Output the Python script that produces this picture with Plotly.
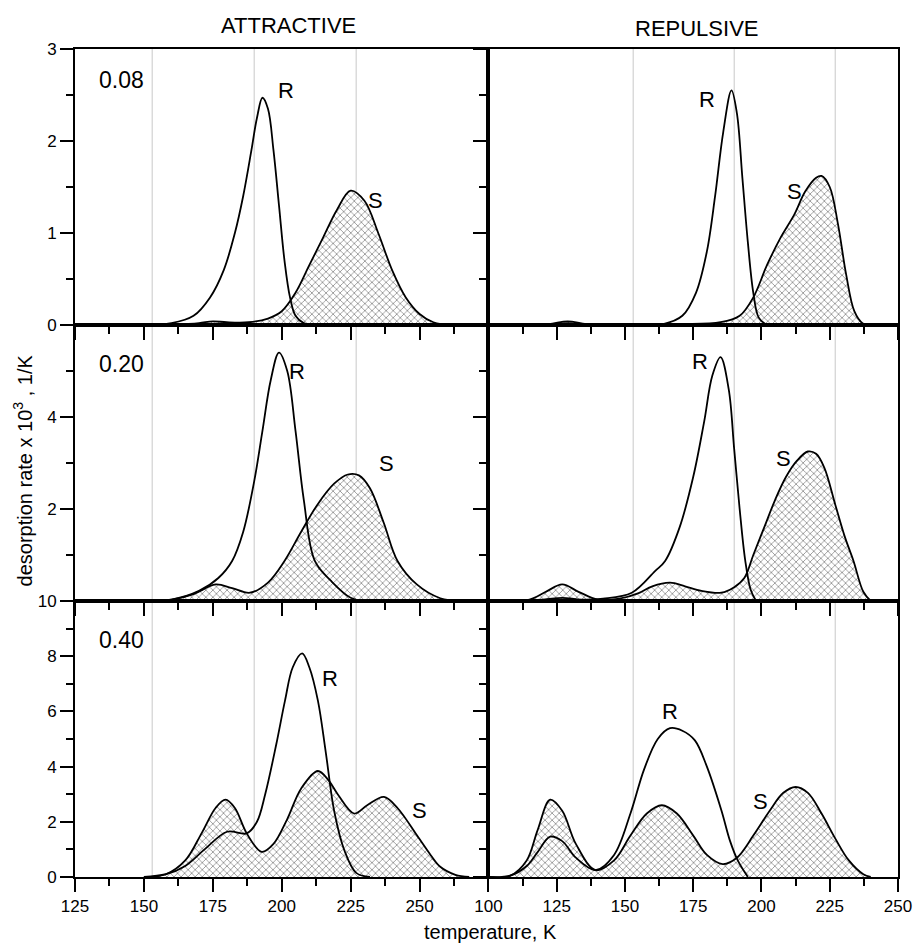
import plotly.graph_objects as go

# ---------------- data (temperature K, desorption rate x1e3 1/K) ----------------
# 0.08 ATTRACTIVE
TL_R_T = [150, 160, 168, 174, 179, 183, 186, 189, 191, 193, 195, 197, 199, 201, 203, 205, 208, 212]
TL_R_V = [0, 0.02, 0.1, 0.3, 0.6, 1.0, 1.4, 1.9, 2.25, 2.47, 2.35, 1.9, 1.3, 0.7, 0.3, 0.1, 0.02, 0]
TL_S_T = [160, 170, 175, 180, 188, 195, 200, 205, 210, 215, 220, 225, 230, 235, 240, 245, 250, 255, 262]
TL_S_V = [0, 0.02, 0.04, 0.03, 0.03, 0.07, 0.15, 0.35, 0.65, 0.95, 1.25, 1.46, 1.35, 1.0, 0.6, 0.3, 0.12, 0.03, 0]
# 0.08 REPULSIVE
TR_R_T = [110, 122, 129, 136, 150, 164, 171, 176, 180, 183, 186, 189, 191, 193, 195, 197, 199, 202]
TR_R_V = [0, 0.005, 0.02, 0.005, 0, 0.01, 0.1, 0.35, 0.8, 1.4, 2.1, 2.55, 2.3, 1.6, 0.9, 0.35, 0.08, 0]
TR_S_T = [110, 122, 129, 136, 150, 170, 185, 192, 197, 202, 207, 212, 216, 220, 222, 225, 228, 231, 234, 237, 240]
TR_S_V = [0, 0.01, 0.04, 0.01, 0, 0.01, 0.03, 0.1, 0.3, 0.65, 0.95, 1.2, 1.45, 1.6, 1.62, 1.5, 1.1, 0.55, 0.15, 0.02, 0]
# 0.20 ATTRACTIVE
ML_R_T = [150, 160, 170, 177, 182, 186, 190, 193, 196, 199, 202, 205, 208, 212, 218, 225, 230]
ML_R_V = [0, 0.03, 0.22, 0.5, 0.87, 1.5, 2.6, 3.7, 4.8, 5.4, 5.0, 3.7, 2.2, 0.87, 0.43, 0.07, 0]
ML_S_T = [150, 160, 168, 176, 182, 188.5, 195, 201, 207, 213, 219, 224, 228, 232, 237, 242, 249, 257.5, 265]
ML_S_V = [0, 0.03, 0.15, 0.36, 0.28, 0.18, 0.4, 0.87, 1.5, 2.1, 2.55, 2.75, 2.73, 2.45, 1.7, 0.87, 0.36, 0.06, 0]
# 0.20 REPULSIVE
MR_R_T = [105, 120, 127, 134, 142, 152.5, 161, 164.7, 170, 175, 179, 182, 185, 188, 190, 192, 194, 196, 198]
MR_R_V = [0, 0.03, 0.07, 0.03, 0.05, 0.18, 0.65, 0.87, 1.6, 2.7, 3.9, 4.9, 5.3, 4.6, 3.3, 2.0, 0.9, 0.25, 0]
MR_S_T = [105, 115, 121, 127, 133, 140, 148, 155, 160, 166.5, 172, 178, 185.3, 190, 193.7, 197, 201, 205, 209, 213, 217, 220, 223, 227, 230.5, 233.7, 237.3, 240]
MR_S_V = [0, 0.03, 0.2, 0.36, 0.2, 0.03, 0.05, 0.17, 0.32, 0.4, 0.32, 0.22, 0.18, 0.3, 0.5, 1.0, 1.6, 2.2, 2.7, 3.05, 3.25, 3.2, 2.9, 2.1, 1.4, 0.87, 0.2, 0]
# 0.40 ATTRACTIVE
BL_R_T = [150, 158, 165, 172, 180.2, 187.3, 191, 194, 198, 201.2, 204, 207.4, 210, 213.1, 216, 219, 222.7, 227, 232]
BL_R_V = [0, 0.1, 0.4, 1.0, 1.64, 1.58, 2.0, 3.0, 4.8, 6.4, 7.6, 8.1, 7.6, 6.4, 4.5, 2.4, 0.97, 0.15, 0]
BL_S_T = [150, 158, 165, 171, 176, 179.6, 183, 187.3, 192.7, 197, 202, 207, 213.1, 217, 220.3, 226.3, 231, 237.1, 242, 249.1, 254, 257.5, 263, 268]
BL_S_V = [0, 0.1, 0.6, 1.6, 2.5, 2.8, 2.5, 1.58, 0.91, 1.2, 2.1, 3.2, 3.84, 3.5, 3.0, 2.3, 2.6, 2.9, 2.5, 1.5, 0.8, 0.37, 0.08, 0]
# 0.40 REPULSIVE
BR_R_T = [100, 108, 114, 118, 122.6, 127, 132, 139.2, 146, 152, 157, 162, 166.5, 171, 175.6, 180, 185.3, 188.5, 191.3, 195]
BR_R_V = [0, 0.05, 0.4, 0.9, 1.46, 1.3, 0.7, 0.25, 0.8, 2.3, 3.9, 5.0, 5.39, 5.3, 4.95, 4.0, 2.42, 1.3, 0.6, 0]
BR_S_T = [100, 108, 114, 118, 122.6, 127, 132, 139.2, 146, 152, 158, 163.5, 169, 175, 180, 185.8, 191, 197, 203, 208, 212.5, 217, 222, 227, 232, 237.3, 240]
BR_S_V = [0, 0.05, 0.6, 1.7, 2.8, 2.4, 1.2, 0.25, 0.6, 1.5, 2.3, 2.6, 2.3, 1.5, 0.8, 0.47, 0.7, 1.5, 2.4, 3.05, 3.26, 3.05, 2.3, 1.4, 0.6, 0.1, 0]

PANEL_LABELS = ["0.08", "0.20", "0.40"]
COL_TITLES = ["ATTRACTIVE", "REPULSIVE"]
X_TITLE = "temperature, K"
Y_TITLE = "desorption rate x 10<sup>3</sup> , 1/K"
LEFT_XRANGE = [125, 275]
RIGHT_XRANGE = [100, 250]
Y_RANGES = [[0, 3], [0, 6], [0, 10]]
Y_DTICK = [1, 2, 2]
Y_TICKS = [[0, 1, 2, 3], [2, 4], [0, 2, 4, 6, 8, 10]]
GRID_T = [153, 190, 227]
LEFT_XTICKS = [125, 150, 175, 200, 225, 250]
RIGHT_XTICKS = [100, 125, 150, 175, 200, 225, 250]

panels = [
    (TL_R_T, TL_R_V, TL_S_T, TL_S_V),
    (TR_R_T, TR_R_V, TR_S_T, TR_S_V),
    (ML_R_T, ML_R_V, ML_S_T, ML_S_V),
    (MR_R_T, MR_R_V, MR_S_T, MR_S_V),
    (BL_R_T, BL_R_V, BL_S_T, BL_S_V),
    (BR_R_T, BR_R_V, BR_S_T, BR_S_V),
]
LABEL_R = [(201.5, 2.55), (180, 2.45), (205.5, 5.0), (177.5, 5.2), (217.5, 7.2), (166.5, 6.0)]
LABEL_S = [(234, 1.35), (212, 1.45), (238, 3.0), (208, 3.1), (250, 2.4), (199.5, 2.75)]
PANEL_LABEL_POS = [(142, 2.66), (142, 5.15), (142, 8.6)]

FONT = "Liberation Sans, Arial, sans-serif"
W, H = 924, 945
L, R, T, B = 75, 19, 49, 68
pw = W - L - R
ph = H - T - B
split = 417 / pw

fig = go.Figure()
for i, (rt, rv, st, sv) in enumerate(panels):
    n = i + 1
    xa = "x" if n == 1 else f"x{n}"
    ya = "y" if n == 1 else f"y{n}"
    fig.add_trace(go.Scatter(
        x=st, y=sv, xaxis=xa, yaxis=ya, mode="lines",
        line=dict(color="black", width=1.8, shape="spline", smoothing=1.0),
        fill="tozeroy", fillcolor="rgba(0,0,0,0)",
        fillpattern=dict(shape="x", fgcolor="#222222", bgcolor="white", size=5, solidity=0.3),
        showlegend=False, hoverinfo="skip"))
    fig.add_trace(go.Scatter(
        x=rt, y=rv, xaxis=xa, yaxis=ya, mode="lines",
        line=dict(color="black", width=1.8, shape="spline", smoothing=1.0),
        showlegend=False, hoverinfo="skip"))

layout = dict(width=W, height=H, margin=dict(l=L, r=R, t=T, b=B), paper_bgcolor="white", plot_bgcolor="white",
              font=dict(family=FONT, size=17, color="black"), showlegend=False)
row_dom = [[2 / 3, 1], [1 / 3, 2 / 3], [0, 1 / 3]]
annotations = []
shapes = []
for i in range(6):
    n = i + 1
    row, col = i // 2, i % 2
    xk = "xaxis" if n == 1 else f"xaxis{n}"
    yk = "yaxis" if n == 1 else f"yaxis{n}"
    ya = "y" if n == 1 else f"y{n}"
    xa = "x" if n == 1 else f"x{n}"
    xr = LEFT_XRANGE if col == 0 else RIGHT_XRANGE
    xt = LEFT_XTICKS if col == 0 else RIGHT_XTICKS
    layout[xk] = dict(domain=[0, split] if col == 0 else [split, 1], range=xr, anchor=ya,
                      showline=True, linecolor="black", linewidth=2, mirror=True,
                      ticks="outside", ticklen=13, tickwidth=2, tickcolor="black",
                      minor=dict(ticks="outside", ticklen=7, tickwidth=2, tickcolor="black", dtick=12.5, tick0=100),
                      showgrid=False, zeroline=False,
                      tickmode="array", tickvals=xt, showticklabels=(row == 2),
                      tickfont=dict(size=17))
    yr = Y_RANGES[row]
    layout[yk] = dict(domain=row_dom[row], range=yr, anchor=xa,
                      showline=True, linecolor="black", linewidth=2, mirror=True,
                      ticks="outside", ticklen=13, tickwidth=2, tickcolor="black",
                      minor=dict(ticks="outside", ticklen=7, tickwidth=2, tickcolor="black",
                                 dtick=Y_DTICK[row] / 2, tick0=0),
                      tickmode="array", tickvals=Y_TICKS[row] if col == 0 else list(range(yr[0], yr[1] + 1, Y_DTICK[row])),
                      showticklabels=(col == 0), showgrid=False, zeroline=False, tickfont=dict(size=17))
    for g in GRID_T:
        shapes.append(dict(type="line", xref=xa, yref=f"{ya} domain", x0=g, x1=g, y0=0, y1=1,
                           line=dict(color="#c8c8c8", width=1), layer="below"))
    annotations.append(dict(x=LABEL_R[i][0], y=LABEL_R[i][1], xref=xa, yref=ya, text="R", showarrow=False,
                            font=dict(size=22, family=FONT)))
    annotations.append(dict(x=LABEL_S[i][0], y=LABEL_S[i][1], xref=xa, yref=ya, text="S", showarrow=False,
                            font=dict(size=22, family=FONT)))
    if col == 0:
        px_, py_ = PANEL_LABEL_POS[row]
        annotations.append(dict(x=px_, y=py_, xref=xa, yref=ya, text=PANEL_LABELS[row], showarrow=False,
                                font=dict(size=23, family=FONT)))

annotations.append(dict(x=(290 - L) / pw, y=1 + (49 - 25) / ph, xref="paper", yref="paper",
                        xanchor="center", yanchor="middle",
                        text=COL_TITLES[0], showarrow=False, font=dict(size=22, family=FONT)))
annotations.append(dict(x=(702 - L) / pw, y=1 + (49 - 28) / ph, xref="paper", yref="paper",
                        xanchor="center", yanchor="middle",
                        text=COL_TITLES[1], showarrow=False, font=dict(size=22, family=FONT)))
annotations.append(dict(x=(494 - L) / pw, y=-(932 - 877) / ph, xref="paper", yref="paper",
                        xanchor="center", yanchor="middle",
                        text=X_TITLE, showarrow=False, font=dict(size=20, family=FONT)))
annotations.append(dict(x=-(75 - 22) / pw, y=(877 - 470) / ph, xref="paper", yref="paper", xanchor="center",
                        yanchor="middle", text=Y_TITLE, textangle=-90,
                        showarrow=False, font=dict(size=20, family=FONT)))
layout["annotations"] = annotations
layout["shapes"] = shapes
fig.update_layout(**layout)
fig.write_html("out.html")
